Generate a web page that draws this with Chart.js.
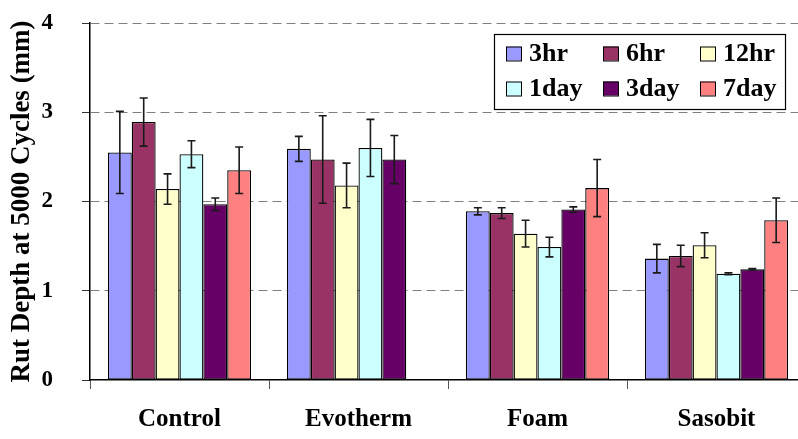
<!DOCTYPE html>
<html>
<head>
<meta charset="utf-8">
<script src="https://cdn.jsdelivr.net/npm/chart.js@4.4.0/dist/chart.umd.min.js"></script>
<style>
    html, body { margin: 0; padding: 0; background: #fff; overflow: hidden; }
    #wrap { position: relative; width: 806px; height: 439px; }
</style>
</head>
<body>
<div id="wrap"><canvas id="rutChart"></canvas></div>
<script>
// Chart data
const categories = ['Control', 'Evotherm', 'Foam', 'Sasobit'];
const seriesNames = ['3hr', '6hr', '12hr', '1day', '3day', '7day'];
const seriesColors = ['#9999FF', '#993366', '#FFFFCC', '#CCFFFF', '#660066', '#FF8080'];

const rut3hr  = [2.55, 2.59, 1.89, 1.36];
const rut6hr  = [2.89, 2.47, 1.87, 1.39];
const rut12hr = [2.14, 2.18, 1.64, 1.51];
const rut1day = [2.53, 2.60, 1.49, 1.19];
const rut3day = [1.97, 2.47, 1.91, 1.24];
const rut7day = [2.35, null, 2.15, 1.79];

const err3hr  = [0.46, 0.14, 0.04, 0.16];
const err6hr  = [0.27, 0.49, 0.06, 0.12];
const err12hr = [0.17, 0.25, 0.15, 0.14];
const err1day = [0.15, 0.32, 0.11, 0.01];
const err3day = [0.07, 0.27, 0.03, 0.01];
const err7day = [0.26, null, 0.32, 0.25];

const yTicks = [0, 1, 2, 3, 4];

const seriesValues = [rut3hr, rut6hr, rut12hr, rut1day, rut3day, rut7day];
const seriesErrors = [err3hr, err6hr, err12hr, err1day, err3day, err7day];

const serif = '"Liberation Serif", "Times New Roman", serif';

// Error bars, drawn through the y scale
const errorBars = {
    id: 'errorBars',
    afterDatasetsDraw(chart) {
        const ctx = chart.ctx;
        const yScale = chart.scales.y;
        ctx.save();
        ctx.strokeStyle = '#1a1a1a';
        ctx.lineWidth = 1.6;
        chart.data.datasets.forEach((ds, i) => {
            const meta = chart.getDatasetMeta(i);
            meta.data.forEach((bar, j) => {
                const v = ds.data[j];
                const e = seriesErrors[i][j];
                if (v == null || e == null) return;
                const x = bar.x;
                const yHi = yScale.getPixelForValue(v + e);
                const yLo = yScale.getPixelForValue(v - e);
                ctx.beginPath();
                ctx.moveTo(x, yHi); ctx.lineTo(x, yLo);
                ctx.moveTo(x - 4, yHi); ctx.lineTo(x + 4, yHi);
                ctx.moveTo(x - 4, yLo); ctx.lineTo(x + 4, yLo);
                ctx.stroke();
            });
        });
        ctx.restore();
    }
};

// Boxed legend inside the plot, 3 columns x 2 rows
const boxLegend = {
    id: 'boxLegend',
    afterDraw(chart) {
        const ctx = chart.ctx;
        const area = chart.chartArea;
        const boxW = 291, boxH = 75;
        const left = area.right - 21 - boxW;
        const top = area.top + 11;
        ctx.save();
        ctx.fillStyle = '#fff';
        ctx.fillRect(left, top, boxW, boxH);
        ctx.strokeStyle = '#000';
        ctx.lineWidth = 1.2;
        ctx.strokeRect(left + 0.5, top + 0.5, boxW, boxH);
        ctx.font = 'bold 26px ' + serif;
        ctx.textBaseline = 'middle';
        chart.data.datasets.forEach((ds, i) => {
            const col = i % 3, row = Math.floor(i / 3);
            const x = left + 12 + col * 97;
            const y = top + 19.5 + row * 35;
            ctx.fillStyle = ds.backgroundColor;
            ctx.fillRect(x, y - 7, 15, 14);
            ctx.strokeStyle = '#000';
            ctx.lineWidth = 1;
            ctx.strokeRect(x + 0.5, y - 6.5, 15, 14);
            ctx.fillStyle = '#000';
            ctx.fillText(ds.label, x + 23, y + 1);
        });
        ctx.restore();
    }
};

const datasets = seriesNames.map((name, i) => ({
    label: name,
    data: seriesValues[i],
    backgroundColor: seriesColors[i],
    borderColor: '#000',
    borderWidth: 1.3,
    borderSkipped: false,
    categoryPercentage: 0.8,
    barPercentage: 1.0
}));

new Chart(document.getElementById('rutChart'), {
    type: 'bar',
    data: { labels: categories, datasets: datasets },
    plugins: [errorBars, boxLegend],
    options: {
        responsive: true,
        maintainAspectRatio: false,
        animation: false,
        layout: { padding: { top: 23, right: 0, left: 0, bottom: 0 } },
        plugins: {
            legend: { display: false },
            tooltip: { enabled: false }
        },
        scales: {
            x: {
                offset: true,
                afterFit(scale) { scale.height = 59; },
                grid: {
                    display: true,
                    offset: true,
                    drawOnChartArea: false,
                    tickLength: 9,
                    color: '#555'
                },
                border: { display: true, color: '#000', width: 1.5 },
                ticks: {
                    color: '#000',
                    padding: 16,
                    font: { family: serif, size: 25, weight: 'bold' }
                }
            },
            y: {
                min: 0,
                max: 4,
                afterFit(scale) {
                    scale.width = 90;
                    scale.paddingTop = 0;
                    scale.paddingBottom = 0;
                },
                afterBuildTicks(scale) { scale.ticks = yTicks.map(v => ({ value: v })); },
                title: {
                    display: true,
                    text: 'Rut Depth at 5000 Cycles (mm)',
                    color: '#000',
                    padding: { top: 6, bottom: 0 },
                    font: { family: serif, size: 27, weight: 'bold' }
                },
                grid: {
                    color: ctx => ctx.tick && ctx.tick.value === 0 ? 'rgba(0,0,0,0)' : '#808080',
                    tickColor: '#333',
                    lineWidth: 1,
                    tickLength: 8
                },
                border: { display: true, color: '#000', width: 1.5, dash: [9, 5] },
                ticks: {
                    color: '#000',
                    padding: 29,
                    font: { family: serif, size: 23, weight: 'bold' }
                }
            }
        }
    }
});
</script>
</body>
</html>
